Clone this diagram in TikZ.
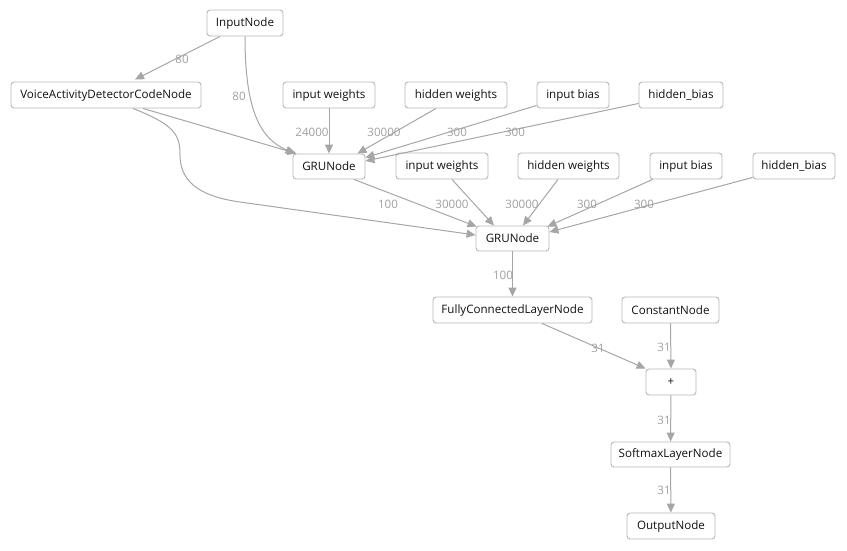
\documentclass[tikz,border=0pt]{standalone}
\usepackage{fontspec}
\setmainfont{Open Sans}
\usetikzlibrary{arrows.meta,calc}
\definecolor{boxc}{HTML}{B8B8B8}
\definecolor{edgec}{HTML}{A6A6A6}
\definecolor{lblc}{HTML}{A0A0A0}
\definecolor{txtc}{HTML}{111111}
\begin{document}
\begin{tikzpicture}[x=1pt,y=-1pt, font=\fontsize{11.6}{13}\selectfont,
 box/.style={draw=boxc, rounded corners=3pt, line width=0.9pt, minimum height=26pt, inner sep=0pt, text=txtc, fill=white},
 conn/.style={draw=edgec, line width=1pt, -{Triangle[length=9pt,width=8pt]}},
 lbl/.style={text=lblc, inner sep=0pt}]
\useasboundingbox (0,0) rectangle (847,550);
\node[box, minimum width=76] (in) at (245,23) {InputNode};
\node[box, minimum width=190] (vad) at (106,95) {VoiceActivityDetectorCodeNode};
\node[box, minimum width=92] (iw1) at (329,95) {input weights};
\node[box, minimum width=102] (hw1) at (456,95) {hidden weights};
\node[box, minimum width=72] (ib1) at (573,95) {input bias};
\node[box, minimum width=84] (hb1) at (681,95) {hidden\_bias};
\node[box, minimum width=72, minimum height=25] (g1) at (329,166.5) {GRUNode};
\node[box, minimum width=92] (iw2) at (442,166) {input weights};
\node[box, minimum width=101] (hw2) at (568.5,166) {hidden weights};
\node[box, minimum width=72] (ib2) at (686,166) {input bias};
\node[box, minimum width=82] (hb2) at (794,166) {hidden\_bias};
\node[box, minimum width=73, minimum height=25] (g2) at (512.5,238.5) {GRUNode};
\node[box, minimum width=159] (fc) at (512.5,310) {FullyConnectedLayerNode};
\node[box, minimum width=97] (cn) at (670.5,310) {ConstantNode};
\node[box, minimum width=50] (plus) at (671,382) {+};
\node[box, minimum width=119, minimum height=25] (sm) at (670.5,454.5) {SoftmaxLayerNode};
\node[box, minimum width=88] (out) at (671,526) {OutputNode};

\draw[conn] ($(in.south)+(-25,0)$) -- ($(vad.north)+(29,-2)$) node[lbl, at={(182,59)}] {80};
\draw[conn] (in.south) .. controls ($(in.south)+(0,75)$) and ($(g1.north west)+(-32,-15)$) .. ($(g1.north west)+(2,0)$) node[lbl, at={(239,96)}] {80};
\draw[conn] ($(vad.south)+(37,0)$) -- ($(g1.north west)+(4,0)$);
\draw[conn] ($(vad.south)+(27,0)$) .. controls (175,125) and (180,135) .. (180,155) .. controls (180,185) and (205,197) .. (240,202) -- ($(g2.west)+(0,-3.5)$);
\draw[conn] (iw1) -- (g1) node[lbl, at={(312,132)}] {24000};
\draw[conn] ($(hw1.south)+(-20,0)$) -- ($(g1.north east)+(-8,0)$) node[lbl, at={(384,132)}] {30000};
\draw[conn] ($(ib1.south west)+(0,-3)$) -- ($(g1.north east)+(0,4)$) node[lbl, at={(457,132)}] {300};
\draw[conn] ($(hb1.south west)+(0,-5)$) -- ($(g1.east)+(0,-5.5)$) node[lbl, at={(515,132)}] {300};

\draw[conn] ($(g1.south)+(25,0)$) -- ($(g2.north west)+(1,1)$) node[lbl, at={(388,204)}] {100};
\draw[conn] ($(iw2.south)+(10,0)$) -- ($(g2.north)+(-18.5,0)$) node[lbl, at={(452,204)}] {30000};
\draw[conn] ($(hw2.south)+(-10.5,0)$) -- ($(g2.north)+(10.5,0)$) node[lbl, at={(522,204)}] {30000};
\draw[conn] ($(ib2.south west)+(3,0)$) -- ($(g2.north east)+(-2,1)$) node[lbl, at={(587,204)}] {300};
\draw[conn] ($(hb2.south west)+(0,-2)$) -- ($(g2.east)+(0,-6.5)$) node[lbl, at={(644,204)}] {300};

\draw[conn] (g2) -- (fc) node[lbl, at={(503,275)}] {100};
\draw[conn] ($(fc.south)+(29.5,0)$) -- (plus.north west) node[lbl, at={(598,348)}] {31};
\draw[conn] (cn.south) -- (plus.north) node[lbl, at={(664,347)}] {31};
\draw[conn] (plus) -- (sm) node[lbl, at={(664,420)}] {31};
\draw[conn] (sm) -- (out) node[lbl, at={(664,490)}] {31};
\end{tikzpicture}
\end{document}
